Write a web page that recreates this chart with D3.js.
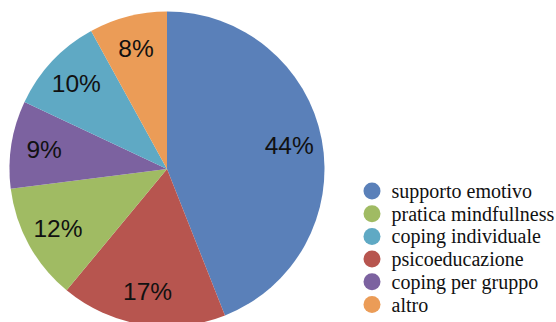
<!DOCTYPE html>
<html>
<head>
<meta charset="utf-8">
<script src="https://cdn.jsdelivr.net/npm/d3@7"></script>
<style>
  html, body { margin: 0; padding: 0; background: #ffffff; }
  svg { display: block; }
</style>
</head>
<body>
<svg id="chart" width="556" height="322"></svg>
<script>
// Slices in drawing order, clockwise from 12 o'clock
const sliceNames = ["supporto emotivo", "psicoeducazione", "pratica mindfullness",
                    "coping per gruppo", "coping individuale", "altro"];
const sliceValues = [44, 17, 12, 9, 10, 8];

// Legend order
const legendNames = ["supporto emotivo", "pratica mindfullness", "coping individuale",
                     "psicoeducazione", "coping per gruppo", "altro"];

const palette = ["#5a80b9", "#b7554f", "#a0bb63", "#7c62a0", "#5fa9c4", "#eb9c57"];
const colorNames = ["supporto emotivo", "psicoeducazione", "pratica mindfullness",
                    "coping per gruppo", "coping individuale", "altro"];

const svg = d3.select("#chart");
const color = d3.scaleOrdinal().domain(colorNames).range(palette);

const cx = 167, cy = 169, radius = 157.5;

const data = sliceNames.map((n, i) => ({ name: n, value: sliceValues[i] }));
const pie = d3.pie().value(d => d.value).sort(null);
const arcs = pie(data);

const arc = d3.arc().innerRadius(0).outerRadius(radius);
const labelArc = d3.arc().innerRadius(radius * 0.79).outerRadius(radius * 0.79);

const g = svg.append("g").attr("transform", `translate(${cx},${cy})`);

g.selectAll("path.slice")
  .data(arcs)
  .join("path")
  .attr("class", "slice")
  .attr("d", arc)
  .attr("fill", d => color(d.data.name));

g.selectAll("text.pct")
  .data(arcs)
  .join("text")
  .attr("class", "pct")
  .attr("transform", d => `translate(${labelArc.centroid(d)})`)
  .attr("text-anchor", "middle")
  .attr("dominant-baseline", "central")
  .attr("font-family", "'Liberation Sans', Arial, sans-serif")
  .attr("font-size", 24.5)
  .attr("fill", "#111111")
  .text(d => d.data.value + "%");

// Legend
const legend = svg.append("g").attr("transform", "translate(372,191)");
const rows = legend.selectAll("g.row")
  .data(legendNames)
  .join("g")
  .attr("class", "row")
  .attr("transform", (d, i) => `translate(0,${i * 22.7})`);

rows.append("circle")
  .attr("r", 8.5)
  .attr("fill", d => color(d));

rows.append("text")
  .attr("x", 19.5)
  .attr("dominant-baseline", "central")
  .attr("font-family", "'Liberation Serif', 'Times New Roman', serif")
  .attr("font-size", 20)
  .attr("fill", "#111111")
  .text(d => d);
</script>
</body>
</html>
